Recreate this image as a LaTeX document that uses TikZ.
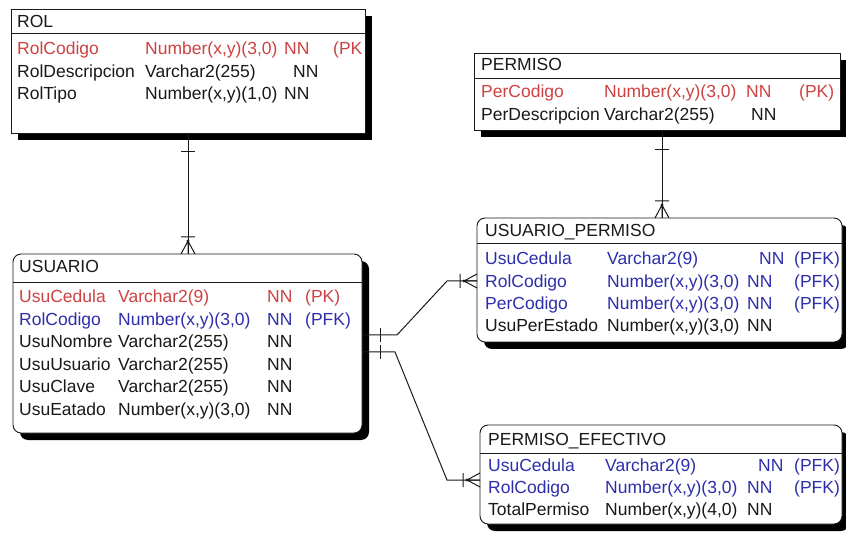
\documentclass[tikz,border=0pt]{standalone}
\usepackage{fontspec}
\setmainfont{Liberation Sans}
\usetikzlibrary{shadows}
\definecolor{ink}{RGB}{25,25,25}
\definecolor{pkred}{RGB}{205,66,66}
\definecolor{fkblue}{RGB}{46,46,172}
\begin{document}
\begin{tikzpicture}[x=1pt,y=-1pt,
  tbl/.style={draw=ink, line width=0.9pt, fill=white, inner sep=0pt, outer sep=0pt,
    anchor=north west, general shadow={fill=black, shadow xshift=7pt, shadow yshift=-7pt}},
  rtbl/.style={tbl, rounded corners=8pt},
  sep/.style={draw=ink, line width=0.9pt},
  txt/.style={anchor=base west, inner sep=0pt, font=\fontsize{17.5}{20}\selectfont, text=ink},
  pk/.style={txt, text=pkred},
  fk/.style={txt, text=fkblue},
  rel/.style={draw=ink, line width=1pt},
  crowfoot/.pic={
    \draw[rel] (-13,0) -- (0,-7) (-13,0) -- (0,0) (-13,0) -- (0,7) (-17,-7) -- (-17,7);
    \fill[ink] (-13,0) circle (1.6);
  },
]
\useasboundingbox (0,0) rectangle (846,534);

% ---------- ROL ----------
\node[tbl, minimum width=354pt, minimum height=124pt] (rol) at (11,9) {};
\draw[sep] ([yshift=-24pt]rol.north west) -- ([yshift=-24pt]rol.north east);
\node[txt] (rol-t) at (17,28) {ROL};
\node[pk] (rol-1n) at (17,55) {RolCodigo};
\node[pk] (rol-1t) at (145,55) {Number(x,y)(3,0)};
\node[pk] (rol-1k) at (284,55) {NN};
\node[pk] (rol-1p) at (333,55) {(PK};
\node[txt] (rol-2n) at (17,77.5) {RolDescripcion};
\node[txt] (rol-2t) at (145,77.5) {Varchar2(255)};
\node[txt] (rol-2k) at (293,77.5) {NN};
\node[txt] (rol-3n) at (17,100) {RolTipo};
\node[txt] (rol-3t) at (145,100) {Number(x,y)(1,0)};
\node[txt] (rol-3k) at (284,100) {NN};

% ---------- PERMISO ----------
\node[tbl, minimum width=366pt, minimum height=77pt] (perm) at (474,53) {};
\draw[sep] ([yshift=-25pt]perm.north west) -- ([yshift=-25pt]perm.north east);
\node[txt] (perm-t) at (481,71) {PERMISO};
\node[pk] (perm-1n) at (481,98) {PerCodigo};
\node[pk] (perm-1t) at (604,98) {Number(x,y)(3,0)};
\node[pk] (perm-1k) at (746,98) {NN};
\node[pk] (perm-1p) at (799,98) {(PK)};
\node[txt] (perm-2n) at (481,121) {PerDescripcion};
\node[txt] (perm-2t) at (604,121) {Varchar2(255)};
\node[txt] (perm-2k) at (751,121) {NN};

% ---------- USUARIO_PERMISO ----------
\node[rtbl, minimum width=365pt, minimum height=124pt] (up) at (477,218) {};
\draw[sep] ([yshift=-25pt]up.north west) -- ([yshift=-25pt]up.north east);
\node[txt] (up-t) at (485,237) {USUARIO\_PERMISO};
\node[fk] (up-1n) at (485,265) {UsuCedula};
\node[fk] (up-1t) at (607,265) {Varchar2(9)};
\node[fk] (up-1k) at (759,265) {NN};
\node[fk] (up-1p) at (794,265) {(PFK)};
\node[fk] (up-2n) at (485,287.5) {RolCodigo};
\node[fk] (up-2t) at (607,287.5) {Number(x,y)(3,0)};
\node[fk] (up-2k) at (747,287.5) {NN};
\node[fk] (up-2p) at (794,287.5) {(PFK)};
\node[fk] (up-3n) at (485,310) {PerCodigo};
\node[fk] (up-3t) at (607,310) {Number(x,y)(3,0)};
\node[fk] (up-3k) at (747,310) {NN};
\node[fk] (up-3p) at (794,310) {(PFK)};
\node[txt] (up-4n) at (485,332) {UsuPerEstado};
\node[txt] (up-4t) at (607,332) {Number(x,y)(3,0)};
\node[txt] (up-4k) at (747,332) {NN};

% ---------- USUARIO ----------
\node[rtbl, minimum width=349pt, minimum height=179pt] (usu) at (13,254) {};
\draw[sep] ([yshift=-28pt]usu.north west) -- ([yshift=-28pt]usu.north east);
\node[txt] (usu-t) at (19,273) {USUARIO};
\node[pk] (usu-1n) at (19,303) {UsuCedula};
\node[pk] (usu-1t) at (118,303) {Varchar2(9)};
\node[pk] (usu-1k) at (267,303) {NN};
\node[pk] (usu-1p) at (305,303) {(PK)};
\node[fk] (usu-2n) at (19,325.4) {RolCodigo};
\node[fk] (usu-2t) at (118,325.4) {Number(x,y)(3,0)};
\node[fk] (usu-2k) at (267,325.4) {NN};
\node[fk] (usu-2p) at (305,325.4) {(PFK)};
\node[txt] (usu-3n) at (19,347.8) {UsuNombre};
\node[txt] (usu-3t) at (118,347.8) {Varchar2(255)};
\node[txt] (usu-3k) at (267,347.8) {NN};
\node[txt] (usu-4n) at (19,370.2) {UsuUsuario};
\node[txt] (usu-4t) at (118,370.2) {Varchar2(255)};
\node[txt] (usu-4k) at (267,370.2) {NN};
\node[txt] (usu-5n) at (19,392.6) {UsuClave};
\node[txt] (usu-5t) at (118,392.6) {Varchar2(255)};
\node[txt] (usu-5k) at (267,392.6) {NN};
\node[txt] (usu-6n) at (19,415) {UsuEatado};
\node[txt] (usu-6t) at (118,415) {Number(x,y)(3,0)};
\node[txt] (usu-6k) at (267,415) {NN};

% ---------- PERMISO_EFECTIVO ----------
\node[rtbl, minimum width=362pt, minimum height=99pt] (pe) at (480,425) {};
\draw[sep] ([yshift=-28pt]pe.north west) -- ([yshift=-28pt]pe.north east);
\node[txt] (pe-t) at (488,445) {PERMISO\_EFECTIVO};
\node[fk] (pe-1n) at (488,471) {UsuCedula};
\node[fk] (pe-1t) at (605,471) {Varchar2(9)};
\node[fk] (pe-1k) at (758,471) {NN};
\node[fk] (pe-1p) at (794,471) {(PFK)};
\node[fk] (pe-2n) at (488,493) {RolCodigo};
\node[fk] (pe-2t) at (605,493) {Number(x,y)(3,0)};
\node[fk] (pe-2k) at (747,493) {NN};
\node[fk] (pe-2p) at (794,493) {(PFK)};
\node[txt] (pe-3n) at (488,515) {TotalPermiso};
\node[txt] (pe-3t) at (605,515) {Number(x,y)(4,0)};
\node[txt] (pe-3k) at (747,515) {NN};

% ---------- relationships ----------
% ROL 1 -- N USUARIO
\draw[rel] (rol.south) -- (usu.north -| rol.south);
\draw[rel] (rol.south) ++(-7,19) -- ++(14,0);
\path (usu.north -| rol.south) pic[rotate=-90] {crowfoot};

% PERMISO 1 -- N USUARIO_PERMISO
\coordinate (v2) at (662,0);
\draw[rel] (perm.south -| v2) -- (up.north -| v2);
\draw[rel] (perm.south -| v2) ++(-7,20) -- ++(14,0);
\path (up.north -| v2) pic[rotate=-90] {crowfoot};

% USUARIO 1 -- N USUARIO_PERMISO
\coordinate (j1) at (397,335);
\coordinate (j2) at (447,281);
\draw[rel] (usu.east |- j1) -- (j1) -- (j2) -- (up.west |- j2);
\draw[rel] (usu.east |- j1) ++(18,-7) -- ++(0,14);
\path (up.west |- j2) pic {crowfoot};

% USUARIO 1 -- N PERMISO_EFECTIVO
\coordinate (j3) at (395,352);
\coordinate (j4) at (447,480);
\draw[rel] (usu.east |- j3) -- (j3) -- (j4) -- (pe.west |- j4);
\draw[rel] (usu.east |- j3) ++(18,-7) -- ++(0,14);
\path (pe.west |- j4) pic {crowfoot};
\end{tikzpicture}
\end{document}
